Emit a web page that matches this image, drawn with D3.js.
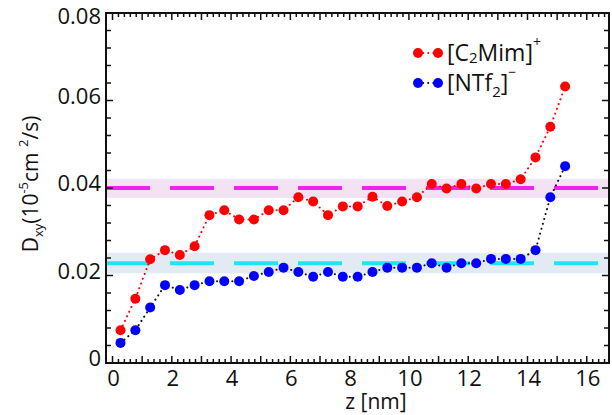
<!DOCTYPE html>
<html>
<head>
<meta charset="utf-8">
<script src="https://cdn.jsdelivr.net/npm/d3@7"></script>
<style>
  body { margin: 0; background: #fff; }
  svg text { font-family: "Open Sans", "DejaVu Sans", sans-serif; fill: #111; }
</style>
</head>
<body>
<div id="chart"></div>
<script>
// z positions (nm)
const zValues = [0.27, 0.77, 1.27, 1.77, 2.27, 2.77, 3.27, 3.77, 4.27, 4.77,
  5.27, 5.77, 6.27, 6.77, 7.27, 7.77, 8.27, 8.77, 9.27, 9.77,
  10.27, 10.77, 11.27, 11.77, 12.27, 12.77, 13.27, 13.77, 14.27, 14.77, 15.27];

// D_xy, [C2Mim]+
const cationD = [0.0075, 0.0147, 0.0237, 0.0258, 0.0247, 0.0267, 0.0338, 0.0349, 0.0328, 0.0328,
  0.0349, 0.0349, 0.0379, 0.0369, 0.0338, 0.0358, 0.0358, 0.0380, 0.0359, 0.0369,
  0.0379, 0.0409, 0.0399, 0.0409, 0.0399, 0.0409, 0.0409, 0.0420, 0.0470, 0.0540, 0.0632];

// D_xy, [NTf2]-
const anionD = [0.0046, 0.0075, 0.0127, 0.0178, 0.0167, 0.0178, 0.0187, 0.0187, 0.0187, 0.0199,
  0.0208, 0.0218, 0.0208, 0.0197, 0.0208, 0.0197, 0.0197, 0.0208, 0.0218, 0.0218,
  0.0218, 0.0228, 0.0218, 0.0228, 0.0228, 0.0238, 0.0238, 0.0238, 0.0258, 0.0379, 0.0450];

// bulk reference levels and their bands
const refLines = [
  { mean: 0.0400, lo: 0.0377, hi: 0.0421, line: "#ee22ee", band: "#f3e1f4" },
  { mean: 0.0228, lo: 0.0205, hi: 0.0252, line: "#22e6ef", band: "#e2eaf3" }
];

const yTickLabels = [0, 0.02, 0.04, 0.06, 0.08];
const xTickLabels = [0, 2, 4, 6, 8, 10, 12, 14, 16];

const W = 612, H = 415;
const pl = 106, pr = 609, pt = 13, pb = 363;

const svg = d3.select("#chart").append("svg")
  .attr("width", W)
  .attr("height", H);

const x = d3.scaleLinear().domain([-0.22, 16.75]).range([pl, pr]);
const y = d3.scaleLinear().domain([0, 0.08]).range([pb, pt]);

// bands + dashed lines
refLines.forEach(r => {
  svg.append("rect")
    .attr("x", pl)
    .attr("y", y(r.hi))
    .attr("width", pr - pl)
    .attr("height", y(r.lo) - y(r.hi))
    .attr("fill", r.band);
  svg.append("line")
    .attr("x1", pl).attr("x2", pr)
    .attr("y1", y(r.mean)).attr("y2", y(r.mean))
    .attr("stroke", r.line)
    .attr("stroke-width", 4)
    .attr("stroke-dasharray", "44,20");
});

// series
const series = [
  { vals: cationD, color: "red", link: "red" },
  { vals: anionD, color: "blue", link: "#111" }
];

const line = d3.line()
  .x(d => x(d[0]))
  .y(d => y(d[1]));

series.forEach(s => {
  const pts = zValues.map((z, i) => [z, s.vals[i]]);
  svg.append("path")
    .datum(pts)
    .attr("d", line)
    .attr("fill", "none")
    .attr("stroke", s.link)
    .attr("stroke-width", 2)
    .attr("stroke-linecap", "round")
    .attr("stroke-dasharray", "0.1,5");
});
series.forEach(s => {
  svg.append("g").selectAll("circle")
    .data(zValues.map((z, i) => [z, s.vals[i]]))
    .enter()
    .append("circle")
    .attr("cx", d => x(d[0]))
    .attr("cy", d => y(d[1]))
    .attr("r", 5)
    .attr("fill", s.color);
});

// frame
svg.append("rect")
  .attr("x", pl).attr("y", pt)
  .attr("width", pr - pl).attr("height", pb - pt)
  .attr("fill", "none")
  .attr("stroke", "#111")
  .attr("stroke-width", 2);

// ticks
const xMinor = d3.range(0, 16.75, 0.2);
const g = svg.append("g").attr("stroke", "#111").attr("stroke-width", 1.5);
xMinor.forEach(v => {
  const major = Math.abs(v - Math.round(v)) < 1e-6;
  const len = major ? 7 : 4;
  g.append("line").attr("x1", x(v)).attr("x2", x(v)).attr("y1", pb).attr("y2", pb - len);
  g.append("line").attr("x1", x(v)).attr("x2", x(v)).attr("y1", pt).attr("y2", pt + len);
});
const yMinor = d3.range(0, 0.0801, 0.004);
yMinor.forEach(v => {
  const major = Math.abs(v / 0.02 - Math.round(v / 0.02)) < 1e-6;
  const len = major ? 7 : 5;
  g.append("line").attr("y1", y(v)).attr("y2", y(v)).attr("x1", pl).attr("x2", pl + len);
  g.append("line").attr("y1", y(v)).attr("y2", y(v)).attr("x1", pr).attr("x2", pr - len);
});

// tick labels
svg.append("g").selectAll("text")
  .data(yTickLabels)
  .enter()
  .append("text")
  .attr("x", pl - 5)
  .attr("y", d => Math.max(y(d) + 3, 24))
  .attr("text-anchor", "end")
  .attr("font-size", 22)
  .text(d => d === 0 ? "0" : d.toFixed(2));

svg.append("g").selectAll("text")
  .data(xTickLabels)
  .enter()
  .append("text")
  .attr("x", d => x(d) + 1)
  .attr("y", 386)
  .attr("text-anchor", "middle")
  .attr("font-size", 22)
  .text(d => d);

// axis titles
svg.append("text")
  .attr("x", 376)
  .attr("y", 409)
  .attr("text-anchor", "middle")
  .attr("font-size", 21)
  .text("z [nm]");

const yt = svg.append("text")
  .attr("transform", "translate(38,184) rotate(-90)")
  .attr("text-anchor", "middle")
  .attr("font-size", 21);
yt.append("tspan").text("D");
yt.append("tspan").attr("font-size", 13).attr("dy", 5).text("xy");
yt.append("tspan").attr("dy", -5).text("(10");
yt.append("tspan").attr("font-size", 13).attr("dy", -10).text("-5");
yt.append("tspan").attr("dy", 10).text("cm ");
yt.append("tspan").attr("font-size", 13).attr("dy", -10).text("2");
yt.append("tspan").attr("dy", 10).text("/s)");

// legend
const legendItems = [
  { label: ["[C", "2", "Mim]", "+"], color: "red", link: "red", y: 53, sub: 2 },
  { label: ["[NTf", "2", "]", "\u2212"], color: "blue", link: "#111", y: 83, sub: 6 }
];
legendItems.forEach(it => {
  svg.append("line")
    .attr("x1", 418).attr("x2", 438)
    .attr("y1", it.y).attr("y2", it.y)
    .attr("stroke", it.link)
    .attr("stroke-width", 2)
    .attr("stroke-linecap", "round")
    .attr("stroke-dasharray", "0.1,5");
  [418, 438].forEach(cx => {
    svg.append("circle").attr("cx", cx).attr("cy", it.y).attr("r", 5).attr("fill", it.color);
  });
  const t = svg.append("text")
    .attr("x", 447)
    .attr("y", it.y + 8)
    .attr("font-size", 23);
  t.append("tspan").text(it.label[0]);
  t.append("tspan").attr("font-size", 15).attr("dy", it.sub).text(it.label[1]);
  t.append("tspan").attr("dy", -it.sub).text(it.label[2]);
  t.append("tspan").attr("font-size", 14).attr("dy", -14).text(it.label[3]);
});
</script>
</body>
</html>
